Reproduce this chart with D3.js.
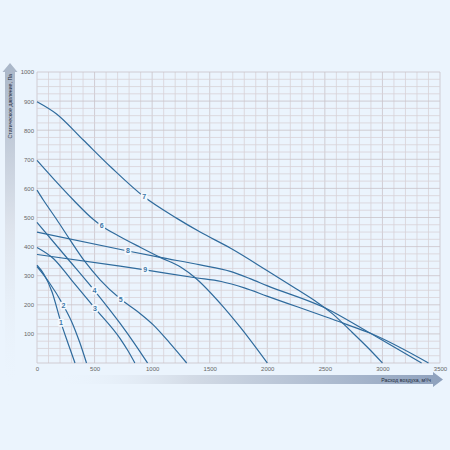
<!DOCTYPE html>
<html><head><meta charset="utf-8">
<script src="https://cdn.jsdelivr.net/npm/d3@7"></script>
<style>html,body{margin:0;padding:0;background:#ebf4fd;}svg{display:block;}</style>
</head><body>
<svg id="chart" width="450" height="450"></svg>
<script>
const xTicks = [0,500,1000,1500,2000,2500,3000,3500];
const yTicks = [100,200,300,400,500,600,700,800,900,1000];
const seriesNames = ["1","2","3","4","5","6","7","8","9"];
const s1 = [[0,336],[60,305],[130,245],[209,138],[270,67],[330,0]];
const s2 = [[0,331],[100,280],[229,198],[300,143],[370,72],[430,0]];
const s3 = [[0,397],[142,359],[300,285],[504,188],[722,84],[790,42],[850,0]];
const s4 = [[0,483],[250,366],[499,249],[722,136],[850,65],[960,0]];
const s5 = [[0,594],[55,560],[171,493],[287,423],[417,348],[550,285],[728,219],[870,178],[1012,130],[1150,70],[1300,0]];
const s6 = [[0,696],[150,630],[316,560],[490,493],[562,471],[722,434],[900,397],[1070,363],[1250,329],[1374,293],[1591,205],[1765,123],[2000,0]];
const s7 = [[0,898],[170,856],[400,767],[650,670],[930,571],[1215,497],[1417,450],[1678,395],[1997,318],[2250,255],[2420,212],[2570,168],[2720,112],[2870,54],[3000,0]];
const s8 = [[0,450],[789,385],[1070,363],[1417,337],[1678,315],[1850,290],[1997,266],[2504,189],[2896,102],[3340,0]];
const s9 = [[0,373],[722,333],[939,320],[1374,293],[1600,280],[1800,258],[1997,230],[2664,136],[2896,102],[3400,0]];
const seriesData = [s1,s2,s3,s4,s5,s6,s7,s8,s9];
const labelX = [209,229,504,499,728,562,930,789,939];
const xTitle = "Расход воздуха, м³/ч";
const yTitle = "Статическое давление, Па";

const svg = d3.select("#chart");
const x = d3.scaleLinear().domain([0,3500]).range([37,440]);
const y = d3.scaleLinear().domain([0,1000]).range([363,72]);

const defs = svg.append("defs");
const gx = defs.append("linearGradient").attr("id","gx").attr("x1","0").attr("x2","1").attr("y1","0").attr("y2","0");
gx.append("stop").attr("offset","0").attr("stop-color","#ebf4fd").attr("stop-opacity",0);
gx.append("stop").attr("offset","0.35").attr("stop-color","#d3dbe6");
gx.append("stop").attr("offset","1").attr("stop-color","#8ea1bd");
const gy = defs.append("linearGradient").attr("id","gy").attr("x1","0").attr("x2","0").attr("y1","1").attr("y2","0");
gy.append("stop").attr("offset","0").attr("stop-color","#ebf4fd").attr("stop-opacity",0);
gy.append("stop").attr("offset","0.5").attr("stop-color","#dde3ec");
gy.append("stop").attr("offset","1").attr("stop-color","#a9b6c8");

// grid
const grid = svg.append("g");
d3.range(0,3501,100).forEach(v=>{
  grid.append("line").attr("x1",x(v)).attr("x2",x(v)).attr("y1",y(0)).attr("y2",y(1000))
    .attr("stroke", v%500===0 ? "#c9c3c8" : "#d8d2d7").attr("stroke-width",0.8);
});
d3.range(0,1001,25).forEach(v=>{
  grid.append("line").attr("x1",x(0)).attr("x2",x(3500)).attr("y1",y(v)).attr("y2",y(v))
    .attr("stroke", v%100===0 ? "#c9c3c8" : "#d8d2d7").attr("stroke-width",0.8);
});

// axes labels via d3 axes
const ax = svg.append("g").attr("transform",`translate(0,${y(0)+2})`)
  .call(d3.axisBottom(x).tickValues(xTicks).tickFormat(d3.format("d")).tickSize(0).tickPadding(2));
ax.select(".domain").remove();
ax.selectAll("text").attr("font-family","Liberation Sans, Arial").attr("font-size",6).attr("fill","#666");
const ay = svg.append("g").attr("transform",`translate(${x(0)-1},0)`)
  .call(d3.axisLeft(y).tickValues(yTicks).tickFormat(d3.format("d")).tickSize(0).tickPadding(2));
ay.select(".domain").remove();
ay.selectAll("text").attr("font-family","Liberation Sans, Arial").attr("font-size",6).attr("fill","#666");

// arrows
svg.append("path").attr("d",`M55,375 L433,375 L433,372 L443,379.5 L433,387 L433,384 L55,384 Z`).attr("fill","url(#gx)");
svg.append("text").attr("x",431).attr("y",381.5).attr("text-anchor","end")
  .attr("font-family","Liberation Sans, Arial").attr("font-size",5.2).attr("fill","#1e2a3a").text(xTitle);
svg.append("path").attr("d",`M5,390 L5,72 L2.5,72 L10,63 L17.5,72 L15,72 L15,390 Z`).attr("fill","url(#gy)");
svg.append("text").attr("transform","translate(12,74) rotate(-90)").attr("text-anchor","end")
  .attr("font-family","Liberation Sans, Arial").attr("font-size",5.2).attr("fill","#1e2a3a").text(yTitle);

// curves
const line = d3.line().x(d=>x(d[0])).y(d=>y(d[1])).curve(d3.curveMonotoneX);
const curves = svg.append("g");
seriesData.forEach((s,i)=>{
  curves.append("path").attr("d",line(s)).attr("fill","none").attr("stroke","#2f6b9d").attr("stroke-width",1.2);
});
function interp(s,xv){
  for(let k=0;k<s.length-1;k++){
    if(xv>=s[k][0] && xv<=s[k+1][0]){
      const t=(xv-s[k][0])/(s[k+1][0]-s[k][0]);
      return s[k][1]+t*(s[k+1][1]-s[k][1]);
    }
  }
  return s[s.length-1][1];
}
seriesData.forEach((s,i)=>{
  const lx=x(labelX[i]), ly=y(interp(s,labelX[i]));
  curves.append("rect").attr("x",lx-3.5).attr("y",ly-4).attr("width",7).attr("height",8).attr("rx",2).attr("fill","#f3f8fd");
  curves.append("text").attr("x",lx).attr("y",ly+2.5).attr("text-anchor","middle")
    .attr("font-family","Liberation Sans, Arial").attr("font-size",7).attr("font-weight","bold").attr("fill","#3d77a8").text(seriesNames[i]);
});
// x=0 label
svg.append("text").attr("x",x(0)).attr("y",y(0)+8.5).attr("text-anchor","middle")
  .attr("font-family","Liberation Sans, Arial").attr("font-size",6).attr("fill","#666").text("");
</script>
</body></html>
